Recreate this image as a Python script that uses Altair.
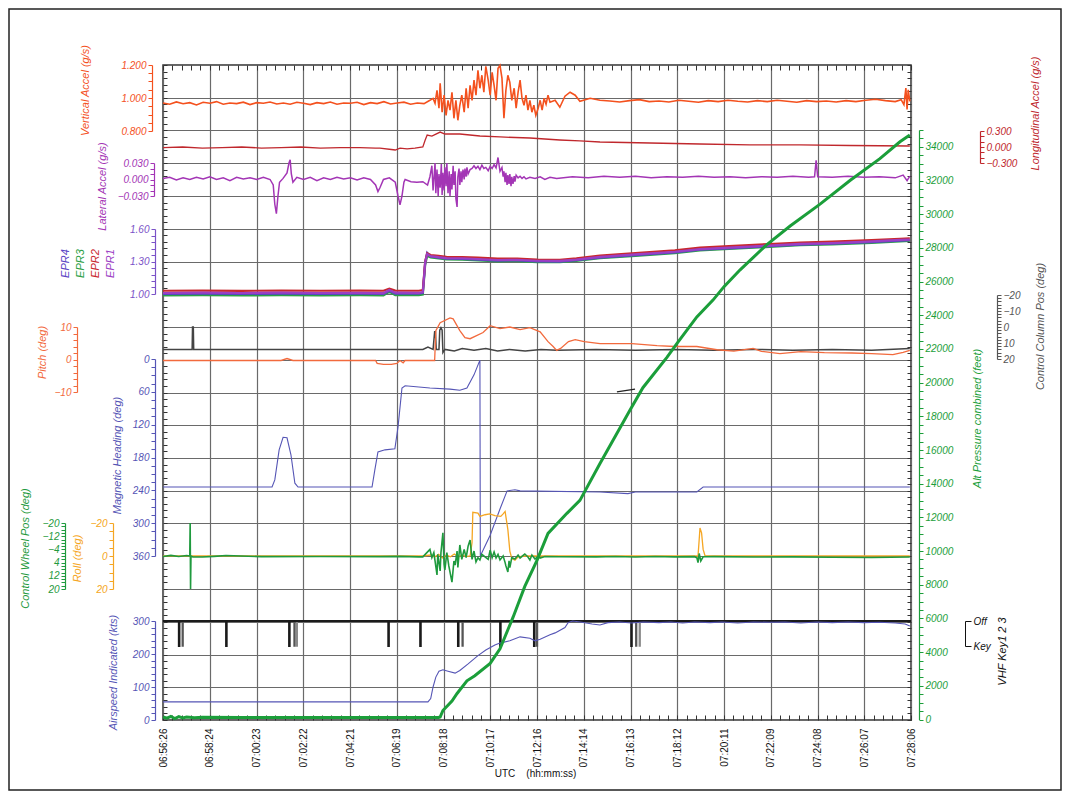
import json
import altair as alt
import pandas as pd

W, H = 748, 655
FONT = "Liberation Sans"

TICK_LABELS = ["06:56:26", "06:58:24", "07:00:23", "07:02:22", "07:04:21", "07:06:19",
               "07:08:18", "07:10:17", "07:12:16", "07:14:14", "07:16:13", "07:18:12",
               "07:20:11", "07:22:09", "07:24:08", "07:26:07", "07:28:06"]
SPAN_S = 1900  # seconds from 06:56:26 to 07:28:06

# ---- series: (seconds since 06:56:26, value) ----
VERT_ACCEL = [(0,0.970),(17,0.962),(34,0.976),(51,0.965),(68,0.972),(85,0.958),(102,0.974),(119,0.968),(136,0.978),(153,0.962),(170,0.970),(187,0.966),(204,0.975),(221,0.960),(238,0.972),(255,0.968),(272,0.976),(289,0.964),(306,0.970),(323,0.962),(340,0.974),(357,0.968),(374,0.960),(391,0.972),(408,0.966),(425,0.976),(442,0.962),(459,0.970),(476,0.968),(493,0.974),(510,0.960),(527,0.972),(544,0.966),(561,0.978),(578,0.964),(595,0.970),(612,0.975),(629,0.962),(646,0.970),(663,0.966),
 (678,0.986),(686,0.998),(691,0.968),(696,1.047),(701,0.938),(704,1.089),(709,0.914),(714,1.017),(719,0.895),(724,0.986),(729,0.926),(734,1.035),(739,0.877),(744,0.986),(749,0.865),(754,0.956),(759,1.017),(765,0.914),(770,1.059),(775,0.938),(780,1.077),(785,0.986),(790,1.108),(795,1.017),(800,1.168),(805,1.059),(810,1.138),(815,1.035),(820,1.192),(826,1.108),(831,1.017),(836,1.156),(841,1.077),(846,0.986),(851,1.180),(856,1.198),(861,1.120),(866,0.877),(871,1.047),(876,1.138),(881,1.095),(886,0.986),(892,1.059),(897,0.938),(902,1.035),(907,1.108),(912,0.998),(917,0.956),(922,1.017),(927,0.926),(932,0.986),(937,0.914),(942,0.956),(947,0.895),(953,0.938),(958,0.986),(963,0.926),(968,0.998),(973,0.962),(978,1.017),(983,0.974),(996,0.986),(1008,0.944),(1021,1.011),(1034,1.035),(1047,1.017),(1059,0.980),(1085,0.998),(1110,0.986),
 (1135,0.982),(1160,0.976),(1185,0.984),(1210,0.990),(1235,0.978),(1260,0.982),(1285,0.976),(1310,0.986),(1335,0.980),(1360,0.974),(1385,0.984),(1410,0.978),(1435,0.986),(1460,0.980),(1485,0.976),(1510,0.984),(1535,0.978),(1560,0.986),(1585,0.980),(1610,0.974),(1635,0.984),(1660,0.978),(1685,0.982),(1710,0.976),(1735,0.984),(1760,0.978),(1785,0.986),(1810,0.992),(1835,0.984),(1860,0.978),(1875,0.990),(1882,0.960),(1887,1.060),(1890,0.930),(1893,1.050),(1897,0.980)]

LONG_ACCEL = [(0,-0.01),(50,0.0),(100,-0.02),(150,-0.01),(200,0.0),(250,-0.02),(300,-0.01),(350,0.0),(400,-0.02),(450,-0.01),(500,-0.01),(540,-0.02),(551,-0.02),(580,-0.047),(590,-0.056),(602,-0.02),(620,-0.035),(640,-0.02),(660,0.0),(666,0.13),(671,0.225),(683,0.206),(704,0.28),(716,0.244),(754,0.244),(805,0.206),(856,0.188),(932,0.169),(1008,0.131),(1059,0.113),(1110,0.094),(1237,0.075),(1364,0.056),(1491,0.038),(1618,0.038),(1745,0.028),(1897,0.019)]

LAT_ACCEL = [(0,0.002),(17,0.004),(34,-0.001),(51,0.003),(68,0.0),(85,0.004),(102,0.001),(119,0.005),(136,0.0),(153,0.003),(170,-0.002),(187,0.004),(204,0.001),(221,0.003),(238,0.0),(255,0.004),(272,0.0),(280,-0.01),(284,-0.045),(288,-0.062),(292,-0.03),(296,-0.005),(305,0.002),(315,0.012),(320,0.03),(323,0.036),(326,0.01),(330,-0.005),(340,0.004),(357,0.0),(374,0.004),(391,-0.002),(408,0.003),(425,0.0),(442,0.004),(459,0.001),(476,0.003),(493,-0.001),(510,0.003),(527,0.0),(540,-0.01),(546,-0.022),(551,-0.015),(560,0.0),(575,0.003),(590,-0.005),(597,-0.03),(602,-0.046),(607,-0.03),(612,-0.005),(615,0.0),(630,-0.004),(645,-0.005),(660,-0.004),(672,-0.01),(678,0.005),
 (683,0.025),(686,-0.02),(691,0.03),(693,-0.025),(696,0.018),(699,-0.03),(701,0.01),(704,-0.015),(707,0.028),(709,-0.028),(711,0.012),(714,-0.02),(716,0.022),(719,-0.012),(721,0.03),(724,-0.025),(727,0.015),(729,-0.03),(732,0.01),(734,-0.018),(737,0.025),(739,-0.01),(742,0.015),(744,-0.035),(747,-0.05),(749,0.005),(752,0.02),(754,-0.01),(757,0.015),(759,-0.005),(762,0.018),(765,0.0),(767,0.02),(770,0.005),(772,0.022),(775,0.01),(780,0.018),(785,0.02),(790,0.025),(795,0.02),(800,0.024),(805,0.018),(810,0.026),(815,0.02),(820,0.022),(826,0.016),(831,0.024),(836,0.02),(841,0.027),(846,0.021),(851,0.04),(856,0.015),(861,0.022),(864,0.005),(866,0.015),(869,-0.005),(871,0.012),(874,-0.01),(876,0.008),(879,-0.008),(881,0.01),(884,-0.012),(886,0.005),(889,-0.008),(892,0.006),(894,-0.004),(897,0.008),(902,0.003),(907,0.006),(912,0.002),(917,0.005),(922,0.001),(932,0.004),(945,0.002),(958,0.005),(970,0.0),(983,0.004),(1000,0.002),
 (1040,0.005),(1080,0.003),(1120,0.006),(1160,0.004),(1200,0.006),(1240,0.003),(1280,0.005),(1320,0.004),(1360,0.006),(1400,0.004),(1440,0.005),(1480,0.003),(1520,0.005),(1560,0.004),(1600,0.006),(1640,0.004),(1655,0.005),(1659,0.035),(1663,0.005),(1700,0.004),(1740,0.006),(1780,0.004),(1820,0.005),(1860,0.003),(1880,0.008),(1890,-0.002),(1897,0.006)]

EPR1 = [(0,1.009),(100,1.012),(200,1.009),(300,1.012),(400,1.009),(500,1.011),(560,1.009),(575,1.037),(590,1.012),(650,1.010),(660,1.018),(666,1.295),(671,1.369),(680,1.350),(700,1.340),(720,1.332),(760,1.330),(800,1.323),(850,1.314),(900,1.316),(950,1.307),(1008,1.305),(1050,1.318),(1110,1.342),(1200,1.365),(1300,1.390),(1364,1.415),(1450,1.430),(1540,1.447),(1618,1.462),(1700,1.470),(1800,1.485),(1872,1.499),(1897,1.502)]
EPR2 = [(0,1.030),(100,1.032),(200,1.029),(300,1.032),(400,1.030),(500,1.031),(560,1.030),(575,1.050),(590,1.031),(650,1.030),(660,1.036),(666,1.300),(671,1.375),(680,1.360),(700,1.352),(720,1.343),(760,1.341),(800,1.335),(850,1.326),(900,1.327),(950,1.318),(1008,1.316),(1050,1.330),(1110,1.355),(1200,1.378),(1300,1.404),(1364,1.428),(1450,1.445),(1540,1.461),(1618,1.475),(1700,1.483),(1800,1.497),(1872,1.510),(1897,1.513)]
EPR3 = [(0,0.988),(100,0.990),(200,0.987),(300,0.990),(400,0.988),(500,0.989),(560,0.988),(575,1.020),(590,0.990),(650,0.989),(660,0.995),(666,1.270),(671,1.350),(680,1.338),(700,1.328),(720,1.320),(760,1.318),(800,1.311),(850,1.302),(900,1.303),(950,1.295),(1008,1.293),(1050,1.306),(1110,1.330),(1200,1.352),(1300,1.377),(1364,1.402),(1450,1.418),(1540,1.434),(1618,1.450),(1700,1.458),(1800,1.472),(1872,1.486),(1897,1.489)]
EPR4 = [(0,1.002),(100,1.004),(200,1.001),(300,1.004),(400,1.002),(500,1.003),(560,1.002),(575,1.030),(590,1.004),(650,1.003),(660,1.010),(666,1.290),(671,1.380),(680,1.346),(700,1.336),(720,1.327),(760,1.324),(800,1.318),(850,1.309),(900,1.310),(950,1.301),(1008,1.299),(1050,1.312),(1110,1.336),(1200,1.359),(1300,1.384),(1364,1.409),(1450,1.424),(1540,1.441),(1618,1.456),(1700,1.464),(1800,1.479),(1872,1.493),(1897,1.496)]

PITCH = [(0,-0.3),(300,-0.3),(315,0.3),(330,-0.3),(540,-0.3),(544,-1.2),(560,-1.5),(580,-1.5),(594,-1.2),(602,-0.3),(610,-1.0),(615,-0.3),(690,-0.3),(693,8.9),(704,11.3),(729,12.8),(737,12.5),(754,8.9),(767,6.7),(780,6.4),(813,8.3),(831,10.4),(856,9.5),(881,10.0),(907,9.2),(932,9.8),(958,8.5),(978,5.5),(991,4.0),(1000,2.8),(1010,3.4),(1030,5.5),(1047,6.1),(1070,5.5),(1110,4.9),(1191,4.9),(1255,4.3),(1300,4.0),(1356,4.0),(1407,3.0),(1450,2.6),(1499,3.4),(1520,2.5),(1567,1.8),(1620,2.4),(1680,2.1),(1750,2.0),(1800,1.8),(1854,1.5),(1880,2.2),(1897,2.8)]

CTRL_COLUMN = [(0,14),(74,14),(75,0),(77,0),(78,14),(660,14),(673,12.5),(686,14),(690,3),(692,3),(694,14),(701,14),(703,2),(706,0.5),(709,2),(711,16),(716,14),(740,15),(760,13.5),(790,14.5),(820,13.5),(850,15),(880,14),(920,15),(960,14),(1000,14.5),(1100,14),(1200,14.5),(1300,14),(1400,14.5),(1500,14),(1600,14.5),(1700,14),(1800,14.5),(1897,13.5)]

HEADING = [(0,234),(277,234),(284,221),(295,166),(305,143),(315,144),(325,175),(335,227),(343,234),(531,234),(538,203),(546,170),(564,166),(589,164),(597,124),(607,53),(615,49),(678,53),(729,55),(754,57),(772,53),(790,29),(805,2),(806,360),(831,322),(856,274),(874,241),(894,239),(907,241),(1110,243),(1181,246),(1200,243),(1356,243),(1372,234),(1897,234)]
HEADING_B = [(1153,60),(1199,55)]

ROLL = [(0,0),(660,0),(680,-0.6),(690,0.6),(700,-1.0),(710,1.2),(720,-0.6),(730,0.5),(740,-1.2),(750,0.6),(760,-0.6),(770,0.4),(780,0),(785,-8),(787,-26.5),(800,-26),(805,-24),(818,-25),(830,-25.5),(843,-24.5),(858,-24),(864,-25.5),(869,-27),(876,-16),(881,-3),(886,1.5),(894,2.5),(902,0.5),(920,0),(1359,0),(1362,-10),(1364,-17),(1368,-14),(1372,-4),(1377,0),(1897,0)]

CTRL_WHEEL = [(0,0.3),(20,-0.4),(40,0.3),(60,-0.3),(68,0.0),(69,-20),(70,20),(71,0),(76,0.6),(100,0.6),(130,0.2),(160,-0.3),(250,0.4),(400,0.3),(550,0.4),(600,0.2),(650,0.5),(660,0.5),(678,-4),(683,1),(688,-2),(691,3),(696,11.5),(698,-1),(704,9),(706,-2),(711,-14),(714,5),(716,8.5),(721,-2),(726,6),(734,15.8),(739,3),(742,5.5),(747,-3),(749,7),(754,-6.7),(759,2),(765,-4),(770,1),(775,-6),(780,-9.7),(785,2),(790,-3),(795,3.6),(800,1),(805,2.4),(810,-1),(818,0.5),(826,2),(831,-3.6),(836,1),(841,-2.4),(846,1.2),(851,-1),(856,2.4),(864,0),(869,4),(871,6),(876,9.7),(879,3),(881,7),(886,1),(894,1.8),(902,-0.6),(907,1.2),(919,-1.2),(927,0.6),(932,2.4),(937,-0.6),(945,1.8),(953,0),(958,1.2),(970,0.3),(1008,0.5),(1100,0.5),(1150,0.3),(1200,0.6),(1250,0.3),(1300,0.5),(1350,0.4),(1356,1),(1359,4),(1362,-1.5),(1366,3),(1372,0.5),(1400,0.4),(1500,0.6),(1600,0.5),(1700,0.8),(1800,0.9),(1897,0.6)]

AIRSPEED = [(0,55),(660,55),(673,55),(680,65),(686,100),(693,130),(701,148),(711,152),(724,148),(742,142),(754,150),(775,170),(800,195),(820,212),(843,227),(856,233),(881,240),(907,252),(932,248),(945,240),(958,245),(983,258),(996,264),(1021,280),(1029,295),(1040,300),(1060,297),(1090,291),(1110,288),(1130,295),(1160,297),(1190,294),(1220,297),(1260,295),(1290,297),(1320,294),(1350,297),(1390,295),(1420,297),(1460,294),(1500,297),(1540,296),(1580,297),(1620,294),(1660,297),(1700,295),(1740,297),(1780,295),(1820,296),(1860,294),(1885,291),(1897,285)]

ALTITUDE = [(0,150),(10,80),(20,180),(30,60),(40,170),(50,90),(60,150),(80,100),(100,130),(200,120),(400,120),(600,120),(700,120),(704,150),(711,535),(734,1100),(747,1545),(772,2300),(792,2600),(831,3330),(856,4200),(889,6060),(919,7900),(950,9450),(978,11050),(1026,12240),(1059,13010),(1110,15200),(1186,18360),(1219,19700),(1280,21500),(1308,22400),(1356,23900),(1397,24900),(1425,25700),(1466,26700),(1534,28200),(1593,29300),(1669,30600),(1745,32000),(1821,33300),(1872,34300),(1897,34700)]

# VHF key events (key start s, key end s) per channel
VHF_KEY1 = [(40,42),(160,162),(320,322),(572,574),(653,655),(749,751),(856,858),(942,944),(1189,1191)]
VHF_KEY2 = [(49,51),(333,335),(760,762),(949,951),(1201,1203)]
VHF_KEY3 = [(339,341),(1210,1212)]


def frame(pairs):
    return pd.DataFrame({"i": list(range(len(pairs))),
                         "t": [p[0] for p in pairs],
                         "v": [p[1] for p in pairs]})


def vhf_pairs(events):
    pts = [(0, 1)]
    for s, e in events:
        pts += [(s, 1), (s, 0), (e, 0), (e, 1)]
    pts.append((SPAN_S, 1))
    return pts


XSCALE = alt.Scale(domain=[0, SPAN_S], nice=False, zero=False)
X = alt.X("t:Q", scale=XSCALE, axis=None)


def ax(orient, offset, values, major, fmt, color, title, tx, ty, **kw):
    expr = f"indexof({json.dumps(major)}, datum.value) >= 0 ? format(datum.value, '{fmt}') : ''"
    base = dict(orient=orient, offset=offset, values=values, labelExpr=expr, grid=False,
                tickSize=4, tickWidth=1, tickColor=color, domainColor=color, domainWidth=1.2,
                labelColor=color, labelFont=FONT, labelFontStyle="italic", labelFontSize=10,
                labelPadding=2, labelOverlap=False, labelFlush=False, labelBound=False,
                title=title, titleColor=color, titleFont=FONT, titleFontStyle="italic",
                titleFontWeight="normal", titleFontSize=11, titleAngle=270,
                titleAlign="center", titleBaseline="middle", titleX=tx, titleY=ty)
    base.update(kw)
    return alt.Axis(**base)


def line(pairs, color, width, dom, rng, axis=None):
    return alt.Chart(frame(pairs)).mark_line(color=color, strokeWidth=width).encode(
        x=X,
        y=alt.Y("v:Q", scale=alt.Scale(domain=dom, range=rng, nice=False, zero=False), axis=axis),
        order="i:Q")


C_VA, C_LA, C_LT = "#f4511e", "#c0282d", "#a335b5"
C_EPR = "#7a52c7"
C_E1, C_E2, C_E3, C_E4 = "#9c3fc4", "#c8282e", "#2ca046", "#5b45c4"
C_PI, C_CC, C_HD = "#f26a3d", "#555555", "#5555b5"
C_RO, C_CW, C_AS, C_AL = "#f5a623", "#1f9a3e", "#5555b5", "#1b9e3a"

GRID_COLOR = "#6a6a6a"
tick_t = [i * SPAN_S / (len(TICK_LABELS) - 1) for i in range(len(TICK_LABELS))]
minor_t = [i * SPAN_S / ((len(TICK_LABELS) - 1) * 5) for i in range((len(TICK_LABELS) - 1) * 5 + 1)]
step = SPAN_S / (len(TICK_LABELS) - 1)
grid_df = pd.DataFrame({"t": [0, SPAN_S], "v": [0, 100]})
gy = alt.Scale(domain=[0, 100], nice=False, zero=False)

g0 = alt.Chart(grid_df).mark_point(opacity=0).encode(
    x=alt.X("t:Q", scale=XSCALE, axis=alt.Axis(
        orient="bottom", values=tick_t, grid=True, gridColor=GRID_COLOR, gridWidth=1.2,
        ticks=False, domain=False, labelAngle=270, labelAlign="right", labelBaseline="middle",
        labelPadding=8, labelFont=FONT, labelFontSize=10, labelColor="#111",
        labelOverlap=False, labelFlush=False,
        labelExpr=f"{json.dumps(TICK_LABELS)}[round(datum.value / {step})]",
        title="UTC\u00a0\u00a0\u00a0\u00a0(hh:mm:ss)", titleFont=FONT, titleFontSize=10,
        titleFontWeight="normal", titleColor="#111", titleX=372, titleY=53,
        titleAlign="center", titleBaseline="middle")),
    y=alt.Y("v:Q", scale=gy, axis=alt.Axis(
        orient="left", values=list(range(0, 101, 5)), grid=True, gridColor=GRID_COLOR,
        gridWidth=1.2, ticks=False, labels=False, domain=False, title="")))

g1 = alt.Chart(grid_df).mark_point(opacity=0).encode(
    x=alt.X("t:Q", scale=XSCALE, axis=alt.Axis(
        orient="top", offset=-H, values=minor_t, ticks=True, tickSize=5, tickColor="#333",
        labels=False, domain=False, grid=False, title="")),
    y=alt.Y("v:Q", scale=gy, axis=alt.Axis(
        orient="right", offset=-W, values=list(range(0, 101)), ticks=True, tickSize=4,
        tickColor="#333", labels=False, domain=False, grid=False, title="")))

g2 = alt.Chart(grid_df).mark_point(opacity=0).encode(
    x=alt.X("t:Q", scale=XSCALE, axis=alt.Axis(
        orient="bottom", offset=-H, values=minor_t, ticks=True, tickSize=5, tickColor="#333",
        labels=False, domain=False, grid=False, title="")),
    y=alt.Y("v:Q", scale=gy, axis=alt.Axis(
        orient="left", offset=-W, values=list(range(0, 101)), ticks=True, tickSize=4,
        tickColor="#333", labels=False, domain=False, grid=False, title="")))

R_VA, R_LA, R_LT, R_EPR = [66, 0], [98, 66], [131, 98], [229, 164]
R_CC, R_PI, R_HD = [230, 294], [327, 262], [294, 491]
R_RO, R_CW, R_VHF, R_AS, R_AL = [458, 524], [458, 524], [581, 556], [655, 556], [654.5, 65]

layers = [g0, g1, g2,
    line(vhf_pairs(VHF_KEY3), "#8a8a8a", 1.5, [0, 1], R_VHF),
    line(vhf_pairs(VHF_KEY2), "#555555", 1.5, [0, 1], R_VHF),
    line(vhf_pairs(VHF_KEY1), "#1a1a1a", 1.8, [0, 1], R_VHF,
         alt.Axis(orient="right", offset=54, values=[0, 1], labelExpr="datum.value == 1 ? 'Off' : 'Key'",
                  tickSize=6, tickColor="#111", domainColor="#111", labelColor="#111",
                  labelFont=FONT, labelFontStyle="italic", labelFontSize=10, labelPadding=2,
                  labelOverlap=False, labelFlush=False, grid=False,
                  title="VHF Key1  2  3", titleColor="#111", titleFont=FONT, titleFontStyle="italic",
                  titleFontWeight="normal", titleFontSize=11, titleAngle=270, titleAlign="center",
                  titleBaseline="middle", titleX=37, titleY=586)),
    line(HEADING, C_HD, 1.1, [0, 360], R_HD,
         ax("left", 8, list(range(0, 361, 15)), [0, 60, 120, 180, 240, 300, 360], "d", C_HD,
            "Magnetic Heading (deg)", -38, 390)),
    line(HEADING_B, "#222222", 1.3, [0, 360], R_HD),
    line(ROLL, C_RO, 1.3, [-20, 20], R_RO,
         ax("left", 50, list(range(-20, 21, 5)), [-20, 0, 20], "d", C_RO, "Roll (deg)", -36, 493)),
    line(CTRL_WHEEL, C_CW, 1.6, [-20, 20], R_CW,
         ax("left", 98, list(range(-20, 21, 2)), [-20, -12, -4, 4, 12, 20], "d", C_CW,
            "Control Wheel Pos (deg)", -40, 483)),
    line(AIRSPEED, C_AS, 1.1, [0, 300], R_AS,
         ax("left", 8, list(range(0, 301, 20)), [0, 100, 200, 300], "d", C_AS,
            "Airspeed Indicated (kts)", -42, 607)),
    line(CTRL_COLUMN, "#444444", 1.5, [-20, 20], R_CC,
         ax("right", 86, list(range(-20, 21, 2)), [-20, -10, 0, 10, 20], "d", C_CC,
            "Control Column Pos (deg)", 43, 261)),
    line(PITCH, C_PI, 1.3, [-10, 10], R_PI,
         ax("left", 86, list(range(-10, 11, 2)), [-10, 0, 10], "d", C_PI, "Pitch (deg)", -35, 287)),
    line(EPR3, C_E3, 2.2, [1.0, 1.6], R_EPR,
         ax("left", 8, [1.0], [1.0], ".2f", C_E3, "EPR3", -75, 198, labels=False, ticks=False, domain=False)),
    line(EPR4, C_E4, 2.2, [1.0, 1.6], R_EPR,
         ax("left", 8, [1.0], [1.0], ".2f", C_E4, "EPR4", -90, 198, labels=False, ticks=False, domain=False)),
    line(EPR2, C_E2, 2.2, [1.0, 1.6], R_EPR,
         ax("left", 8, [1.0], [1.0], ".2f", C_E2, "EPR2", -60, 198, labels=False, ticks=False, domain=False)),
    line(EPR1, C_E1, 2.2, [1.0, 1.6], R_EPR,
         ax("left", 8, [round(1.0 + 0.06 * i, 2) for i in range(11)], [1.0, 1.3, 1.6], ".2f", C_EPR,
            "EPR1", -45, 198, titleColor=C_E1)),
    line(LAT_ACCEL, C_LT, 1.5, [-0.03, 0.03], R_LT,
         ax("left", 9, [-0.03, -0.02, -0.01, 0.0, 0.01, 0.02, 0.03], [-0.03, 0.0, 0.03], ".3f", C_LT,
            "Lateral Accel (g/s)", -52, 121)),
    line(LONG_ACCEL, C_LA, 1.3, [-0.3, 0.3], R_LA,
         ax("right", 69, [-0.3, -0.2, -0.1, 0.0, 0.1, 0.2, 0.3], [-0.3, 0.0, 0.3], ".3f", C_LA,
            "Longitudinal Accel (g/s)", 55, 48)),
    line(VERT_ACCEL, C_VA, 1.6, [0.8, 1.2], R_VA,
         ax("left", 11, [round(0.8 + 0.05 * i, 2) for i in range(9)], [0.8, 1.0, 1.2], ".3f", C_VA,
            "Vertical Accel (g/s)", -67, 25)),
    line(ALTITUDE, C_AL, 3, [0, 35000], R_AL,
         ax("right", 8, list(range(0, 35001, 500)), list(range(0, 34001, 2000)), "d", C_AL,
            "Alt Pressure combined (feet)", 58, 353)),
    alt.Chart(pd.DataFrame({"k": [0]})).mark_rect(fillOpacity=0, stroke="#222", strokeWidth=1.5).encode(
        x=alt.value(-154), x2=alt.value(898), y=alt.value(-56), y2=alt.value(725)),
]

chart = alt.layer(*layers).resolve_scale(y="independent").resolve_axis(
    x="independent", y="independent").properties(
    width=W, height=H, background="white",
    autosize=alt.AutoSizeParams(type="none"),
    padding={"left": 155, "top": 57, "right": 151, "bottom": 71},
).configure_view(stroke="#333", strokeWidth=1.5)

chart.save("out.html", embed_options={"renderer": "svg", "actions": False})
